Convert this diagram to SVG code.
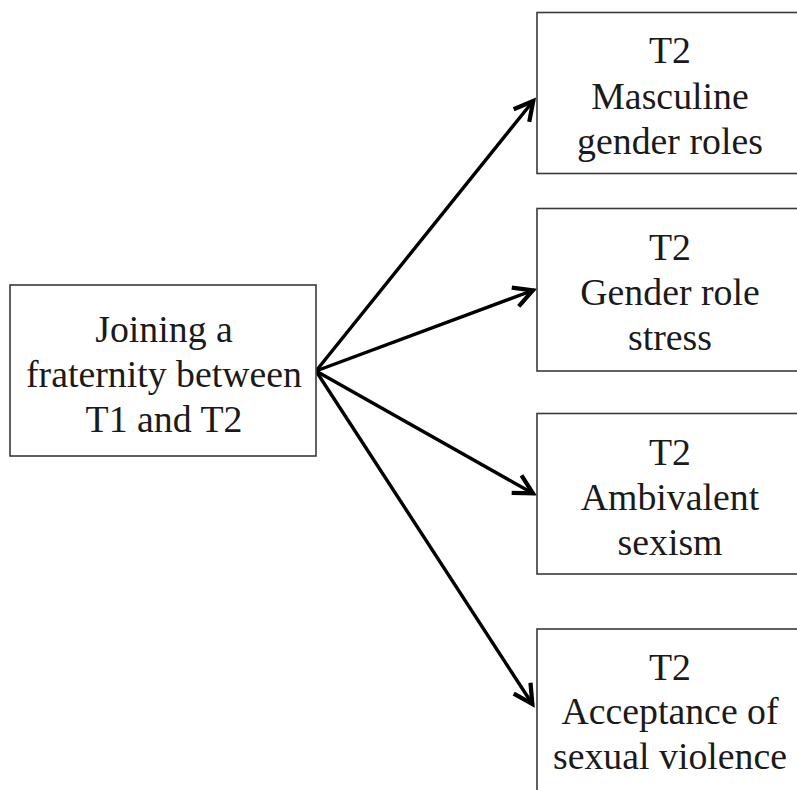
<svg xmlns="http://www.w3.org/2000/svg" width="797" height="790" viewBox="0 0 797 790">
<style>
  .box { fill: #ffffff; stroke: #3a3a3a; stroke-width: 1.6; }
  .lbl { font-family: "Liberation Serif", "Times New Roman", serif; font-size: 37.8px; fill: #1a1a1a; text-anchor: middle; }
  .edge { stroke: #000000; stroke-width: 3.4; fill: none; }
</style>
<defs>
  <marker id="arrow" markerUnits="userSpaceOnUse" markerWidth="30" markerHeight="30" viewBox="-20 -12 24 24" refX="1" refY="0" orient="auto">
    <path d="M-15,-8 L0,0 L-15,8" fill="none" stroke="#000" stroke-width="3.4" stroke-linejoin="miter"/>
  </marker>
</defs>
<rect width="797" height="790" fill="#ffffff"/>
<g id="connectors">
  <line class="edge" x1="316" y1="371" x2="534" y2="100" marker-end="url(#arrow)"/>
  <line class="edge" x1="316" y1="371" x2="534" y2="290" marker-end="url(#arrow)"/>
  <line class="edge" x1="316" y1="371" x2="534" y2="494" marker-end="url(#arrow)"/>
  <line class="edge" x1="316" y1="371" x2="533" y2="705" marker-end="url(#arrow)"/>
</g>
<g id="joining">
  <rect class="box" x="10" y="285" width="306" height="171"/>
  <text class="lbl" x="164" y="342">Joining a</text>
  <text class="lbl" x="164" y="387">fraternity between</text>
  <text class="lbl" x="164" y="432">T1 and T2</text>
</g>
<g id="masculine">
  <rect class="box" x="537" y="12.5" width="280" height="161"/>
  <text class="lbl" x="670" y="63">T2</text>
  <text class="lbl" x="670" y="108.5">Masculine</text>
  <text class="lbl" x="670" y="154">gender roles</text>
</g>
<g id="stress">
  <rect class="box" x="537" y="208.5" width="280" height="162.5"/>
  <text class="lbl" x="670" y="260">T2</text>
  <text class="lbl" x="670" y="305">Gender role</text>
  <text class="lbl" x="670" y="349.5">stress</text>
</g>
<g id="sexism">
  <rect class="box" x="537" y="413.5" width="280" height="160.5"/>
  <text class="lbl" x="670" y="464.5">T2</text>
  <text class="lbl" x="670" y="509.5">Ambivalent</text>
  <text class="lbl" x="670" y="555">sexism</text>
</g>
<g id="violence">
  <rect class="box" x="537" y="629" width="280" height="180"/>
  <text class="lbl" x="670" y="680">T2</text>
  <text class="lbl" x="670" y="724">Acceptance of</text>
  <text class="lbl" x="670" y="768.5">sexual violence</text>
</g>
</svg>
